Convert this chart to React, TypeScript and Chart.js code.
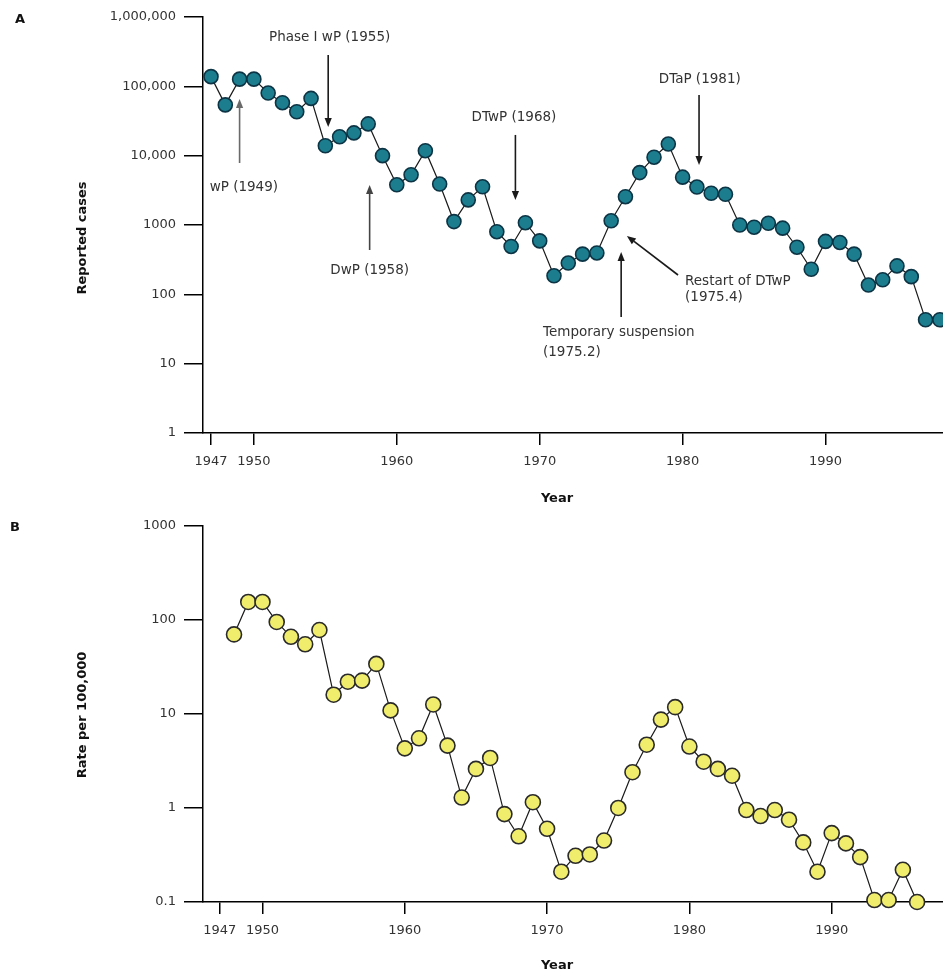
import React, { useEffect, useRef } from 'react';
import { Chart, registerables } from 'chart.js';

Chart.register(...registerables);

const FONT = "'DejaVu Sans', 'Liberation Sans', sans-serif";

// ---------- Panel A: reported cases ----------
const yearsA = [
  1947, 1948, 1949, 1950, 1951, 1952, 1953, 1954, 1955, 1956,
  1957, 1958, 1959, 1960, 1961, 1962, 1963, 1964, 1965, 1966,
  1967, 1968, 1969, 1970, 1971, 1972, 1973, 1974, 1975, 1976,
  1977, 1978, 1979, 1980, 1981, 1982, 1983, 1984, 1985, 1986,
  1987, 1988, 1989, 1990, 1991, 1992, 1993, 1994, 1995, 1996,
  1997, 1998,
];
const casesA = [
  138000, 54000, 127000, 127000, 80000, 58000, 43000, 67000, 13900, 18700,
  21300, 28700, 10000, 3800, 5300, 11800, 3900, 1120, 2300, 3560,
  800, 490, 1080, 590, 185, 283, 380, 395, 1150, 2560,
  5700, 9500, 14700, 4900, 3530, 2870, 2770, 1000, 930, 1060,
  900, 478, 230, 580, 560, 380, 136, 162, 257, 180,
  43, 43,
];

// ---------- Panel B: rate per 100,000 ----------
const yearsB = [
  1948, 1949, 1950, 1951, 1952, 1953, 1954, 1955, 1956, 1957,
  1958, 1959, 1960, 1961, 1962, 1963, 1964, 1965, 1966, 1967,
  1968, 1969, 1970, 1971, 1972, 1973, 1974, 1975, 1976, 1977,
  1978, 1979, 1980, 1981, 1982, 1983, 1984, 1985, 1986, 1987,
  1988, 1989, 1990, 1991, 1992, 1993, 1994, 1995, 1996,
];
const rateB = [
  70, 155, 155, 95, 66, 55, 78, 16, 22, 22.6,
  34, 10.9, 4.3, 5.5, 12.6, 4.6, 1.29, 2.6, 3.4, 0.86,
  0.5, 1.15, 0.6, 0.21, 0.31, 0.32, 0.45, 1.0, 2.4, 4.7,
  8.7, 11.8, 4.5, 3.1, 2.6, 2.2, 0.95, 0.82, 0.95, 0.75,
  0.43, 0.21, 0.54, 0.42, 0.3, 0.105, 0.105, 0.22, 0.1,
];

// ---------- ticks ----------
const xTickValues = [1947, 1950, 1960, 1970, 1980, 1990];
const xTickLabels = ['1947', '1950', '1960', '1970', '1980', '1990'];
const yTicksA = [1, 10, 100, 1000, 10000, 100000, 1000000];
const yTickLabelsA = ['1', '10', '100', '1000', '10,000', '100,000', '1,000,000'];
const yTicksB = [0.1, 1, 10, 100, 1000];
const yTickLabelsB = ['0.1', '1', '10', '100', '1000'];

// ---------- annotations (panel A), anchored in data coordinates ----------
type Ann = {
  lines: string[];
  at: [number, number];
  align: CanvasTextAlign;
  gap: number;
  from?: [number, number];
  to?: [number, number];
  color?: string;
};
const annotationsA: Ann[] = [
  { lines: ['wP (1949)'], at: [1949.3, 3420], align: 'center', gap: 16, from: [1949, 7840], to: [1949, 65700], color: '#6a6a6a' },
  { lines: ['Phase I wP (1955)'], at: [1955.3, 498000], align: 'center', gap: 16, from: [1955.2, 283000], to: [1955.2, 25900] },
  { lines: ['DwP (1958)'], at: [1958.1, 224], align: 'center', gap: 16, from: [1958.1, 436], to: [1958.1, 3780], color: '#444' },
  { lines: ['DTwP (1968)'], at: [1968.2, 36100], align: 'center', gap: 16, from: [1968.3, 19900], to: [1968.3, 2300] },
  { lines: ['DTaP (1981)'], at: [1981.2, 124000], align: 'center', gap: 16, from: [1981.15, 75000], to: [1981.15, 7340] },
  { lines: ['Temporary suspension', '(1975.2)'], at: [1970.23, 28.6], align: 'left', gap: 20, from: [1975.7, 47], to: [1975.7, 408] },
  { lines: ['Restart of DTwP', '(1975.4)'], at: [1980.17, 151], align: 'left', gap: 16, from: [1979.68, 190], to: [1976.1, 694] },
];

type Overlay = {
  panel: string;
  panelX: number;
  panelY: number;
  yTitle: string;
  yTitleX: number;
  yTitleY: number;
  xTitleX: number;
  xTitleY: number;
  annotations: Ann[];
};

function drawArrow(ctx: CanvasRenderingContext2D, x1: number, y1: number, x2: number, y2: number, color: string) {
  const ang = Math.atan2(y2 - y1, x2 - x1);
  const headLen = 9;
  const headW = 3.6;
  const bx = x2 - headLen * Math.cos(ang);
  const by = y2 - headLen * Math.sin(ang);
  ctx.strokeStyle = color;
  ctx.fillStyle = color;
  ctx.lineWidth = 1.6;
  ctx.beginPath();
  ctx.moveTo(x1, y1);
  ctx.lineTo(bx, by);
  ctx.stroke();
  ctx.beginPath();
  ctx.moveTo(x2, y2);
  ctx.lineTo(bx + headW * Math.sin(ang), by - headW * Math.cos(ang));
  ctx.lineTo(bx - headW * Math.sin(ang), by + headW * Math.cos(ang));
  ctx.closePath();
  ctx.fill();
}

function overlayPlugin(cfg: Overlay) {
  return {
    id: 'overlay',
    afterDraw(chart: any) {
      const ctx: CanvasRenderingContext2D = chart.ctx;
      const xs = chart.scales.x;
      const ys = chart.scales.y;
      ctx.save();
      ctx.fillStyle = '#111';
      ctx.font = `bold 13px ${FONT}`;
      ctx.textBaseline = 'middle';
      ctx.textAlign = 'left';
      ctx.fillText(cfg.panel, cfg.panelX, cfg.panelY);
      ctx.textAlign = 'center';
      ctx.fillText('Year', cfg.xTitleX, cfg.xTitleY);
      ctx.save();
      ctx.translate(cfg.yTitleX, cfg.yTitleY);
      ctx.rotate(-Math.PI / 2);
      ctx.fillText(cfg.yTitle, 0, 0);
      ctx.restore();

      for (const a of cfg.annotations) {
        if (a.from && a.to) {
          drawArrow(
            ctx,
            xs.getPixelForValue(a.from[0]),
            ys.getPixelForValue(a.from[1]),
            xs.getPixelForValue(a.to[0]),
            ys.getPixelForValue(a.to[1]),
            a.color || '#1a1a1a'
          );
        }
        ctx.fillStyle = '#333';
        ctx.font = `13.5px ${FONT}`;
        ctx.textAlign = a.align;
        ctx.textBaseline = 'middle';
        const tx = xs.getPixelForValue(a.at[0]);
        const ty = ys.getPixelForValue(a.at[1]);
        a.lines.forEach((t, i) => ctx.fillText(t, tx, ty + i * a.gap));
      }
      ctx.restore();
    },
  };
}

type Spec = {
  years: number[];
  values: number[];
  xMin: number;
  xMax: number;
  yMin: number;
  yMax: number;
  yTicks: number[];
  yLabels: string[];
  pointBg: string;
  pointBorder: string;
  radius: number;
  padTop: number;
  xAxisHeight: number;
  overlay: Overlay;
};

function makeConfig(s: Spec): any {
  return {
    type: 'line',
    data: {
      datasets: [
        {
          data: s.years.map((yr, i) => ({ x: yr, y: s.values[i] })),
          borderColor: '#1a1a1a',
          borderWidth: 1.2,
          pointRadius: s.radius,
          pointHoverRadius: s.radius,
          pointBackgroundColor: s.pointBg,
          pointBorderColor: s.pointBorder,
          pointBorderWidth: 1.6,
          tension: 0,
          fill: false,
          clip: false,
        },
      ],
    },
    options: {
      responsive: false,
      animation: false,
      events: [],
      layout: { autoPadding: false, padding: { top: s.padTop, left: 0, right: 0, bottom: 0 } },
      plugins: { legend: { display: false }, tooltip: { enabled: false }, title: { display: false } },
      scales: {
        x: {
          type: 'linear',
          min: s.xMin,
          max: s.xMax,
          afterBuildTicks: (sc: any) => {
            sc.ticks = xTickValues.map((v) => ({ value: v }));
          },
          afterFit: (sc: any) => {
            sc.height = s.xAxisHeight;
          },
          ticks: {
            autoSkip: false,
            maxRotation: 0,
            color: '#333',
            padding: 9,
            font: { family: FONT, size: 13 },
            callback: (_v: any, i: number) => xTickLabels[i],
          },
          grid: { drawOnChartArea: false, drawTicks: true, tickLength: 12, color: '#000', lineWidth: 1.5 },
          border: { display: true, color: '#000', width: 1.5 },
        },
        y: {
          type: 'logarithmic',
          min: s.yMin,
          max: s.yMax,
          afterBuildTicks: (sc: any) => {
            sc.ticks = s.yTicks.map((v) => ({ value: v }));
          },
          afterFit: (sc: any) => {
            sc.width = 203;
          },
          ticks: {
            autoSkip: false,
            color: '#333',
            padding: 8,
            font: { family: FONT, size: 13 },
            callback: (_v: any, i: number) => s.yLabels[i],
          },
          grid: { drawOnChartArea: false, drawTicks: true, tickLength: 19, color: '#000', lineWidth: 1.5 },
          border: { display: true, color: '#000', width: 1.5 },
        },
      },
    },
    plugins: [overlayPlugin(s.overlay)],
  };
}

function ChartCanvas({ spec, height }: { spec: Spec; height: number }) {
  const ref = useRef<HTMLCanvasElement | null>(null);
  useEffect(() => {
    if (!ref.current) return;
    const chart = new Chart(ref.current, makeConfig(spec));
    return () => chart.destroy();
  }, [spec]);
  return <canvas ref={ref} width={943} height={height} style={{ display: 'block', width: 943, height }} />;
}

const specA: Spec = {
  years: yearsA,
  values: casesA,
  xMin: 1946.44,
  xMax: 1998.22,
  yMin: 1,
  yMax: 1000000,
  yTicks: yTicksA,
  yLabels: yTickLabelsA,
  pointBg: '#1c7d8e',
  pointBorder: '#0c3444',
  radius: 7,
  padTop: 17,
  xAxisHeight: 77,
  overlay: {
    panel: 'A',
    panelX: 15,
    panelY: 20,
    yTitle: 'Reported cases',
    yTitleX: 83,
    yTitleY: 238,
    xTitleX: 557,
    xTitleY: 499,
    annotations: annotationsA,
  },
};

const specB: Spec = {
  years: yearsB,
  values: rateB,
  xMin: 1945.82,
  xMax: 1997.82,
  yMin: 0.1,
  yMax: 1000,
  yTicks: yTicksB,
  yLabels: yTickLabelsB,
  pointBg: '#f1ed6c',
  pointBorder: '#2a2a2a',
  radius: 7.5,
  padTop: 14,
  xAxisHeight: 72,
  overlay: {
    panel: 'B',
    panelX: 10,
    panelY: 18,
    yTitle: 'Rate per 100,000',
    yTitleX: 83,
    yTitleY: 205,
    xTitleX: 557,
    xTitleY: 456,
    annotations: [],
  },
};

export default function App() {
  useEffect(() => {
    document.body.style.margin = '0';
  }, []);
  return (
    <div style={{ width: 943, height: 974, overflow: 'hidden', background: '#fff' }}>
      <style>{'body{margin:0;background:#fff;}'}</style>
      <ChartCanvas spec={specA} height={510} />
      <ChartCanvas spec={specB} height={464} />
    </div>
  );
}
